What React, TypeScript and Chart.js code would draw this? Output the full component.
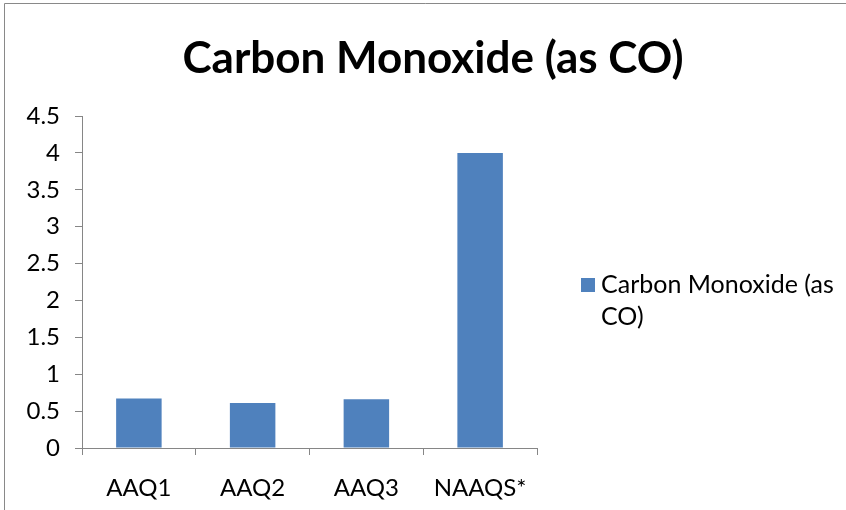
import React, { useEffect, useRef } from 'react';
import { Chart, registerables } from 'chart.js';

Chart.register(...registerables);

const categories: string[] = ['AAQ1', 'AAQ2', 'AAQ3', 'NAAQS*'];
const coValues: number[] = [0.67, 0.61, 0.66, 4];
const seriesName = 'Carbon Monoxide (as CO)';
const titleText = 'Carbon Monoxide (as CO)';
const legendLines: string[] = ['Carbon Monoxide (as', 'CO)'];
const yMin = 0;
const yMax = 4.5;
const yStep = 0.5;

const BAR_COLOR = '#4F81BD';
const AXIS_COLOR = '#868686';
const FONT = 'Lato, "Open Sans", sans-serif';

const decorPlugin = {
  id: 'decor',
  afterDraw(chart: any) {
    const ctx = chart.ctx as CanvasRenderingContext2D;
    ctx.save();
    // frame
    ctx.strokeStyle = '#898989';
    ctx.lineWidth = 1;
    ctx.beginPath();
    ctx.moveTo(4.5, 510);
    ctx.lineTo(4.5, 3.5);
    ctx.lineTo(846, 3.5);
    ctx.stroke();
    // title
    ctx.fillStyle = '#000000';
    ctx.font = `bold 44px ${FONT}`;
    ctx.textAlign = 'center';
    ctx.textBaseline = 'alphabetic';
    ctx.fillText(titleText, 433, 73);
    // legend
    ctx.fillStyle = BAR_COLOR;
    ctx.fillRect(581, 278, 14, 14);
    ctx.fillStyle = '#000000';
    ctx.font = `25px ${FONT}`;
    ctx.textAlign = 'left';
    legendLines.forEach((line, i) => {
      ctx.fillText(line, 601, 293 + i * 32);
    });
    ctx.restore();
  },
};

export default function App() {
  const canvasRef = useRef<HTMLCanvasElement | null>(null);

  useEffect(() => {
    if (!canvasRef.current) return;
    const chart = new Chart(canvasRef.current, {
      type: 'bar',
      data: {
        labels: categories,
        datasets: [
          {
            label: seriesName,
            data: coValues,
            backgroundColor: BAR_COLOR,
            borderWidth: 0,
            barPercentage: 0.4,
            categoryPercentage: 1,
          },
        ],
      },
      options: {
        animation: false,
        responsive: true,
        maintainAspectRatio: false,
        layout: { padding: { left: 8, right: 309, top: 116, bottom: 0 } },
        plugins: {
          legend: { display: false },
          title: { display: false },
          tooltip: { enabled: false },
        },
        scales: {
          x: {
            offset: true,
            grid: {
              display: true,
              drawOnChartArea: false,
              drawTicks: true,
              tickLength: 7,
              color: AXIS_COLOR,
              offset: true,
            },
            border: { display: true, color: AXIS_COLOR, width: 1 },
            ticks: {
              color: '#000000',
              font: { family: FONT, size: 24, lineHeight: 1 },
              padding: 21,
              maxRotation: 0,
              autoSkip: false,
            },
            afterFit: (scale: any) => {
              scale.height = 62;
            },
          },
          y: {
            min: yMin,
            max: yMax,
            grid: {
              display: true,
              drawOnChartArea: false,
              drawTicks: true,
              tickLength: 7,
              color: AXIS_COLOR,
            },
            border: { display: true, color: AXIS_COLOR, width: 1 },
            ticks: {
              stepSize: yStep,
              color: '#000000',
              font: { family: FONT, size: 24, lineHeight: 1 },
              padding: 15,
              callback: (v: any) => `${Number(v)}`,
            },
            afterFit: (scale: any) => {
              scale.width = 74;
            },
          },
        },
      },
      plugins: [decorPlugin],
    });
    return () => chart.destroy();
  }, []);

  return (
    <div style={{ position: 'fixed', left: 0, top: 0, width: 846, height: 510, background: '#ffffff' }}>
      <canvas ref={canvasRef} />
    </div>
  );
}
